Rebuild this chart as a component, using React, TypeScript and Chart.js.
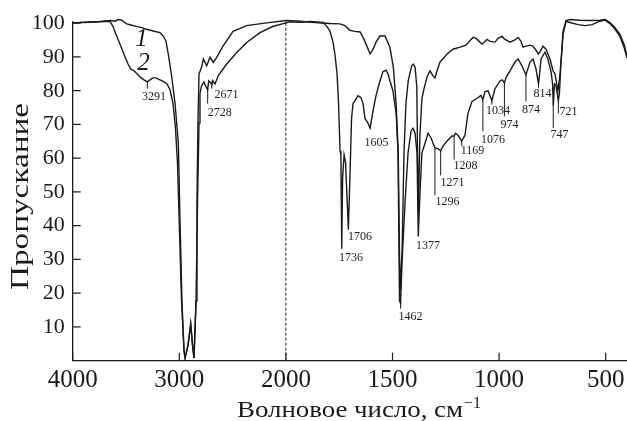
import React, { useEffect, useRef } from "react";
import { Chart, registerables } from "chart.js";

Chart.register(...registerables);

// IR spectra: [wavenumber cm^-1, transmittance %]
const curve1Points: [number, number][] = [
  [4000, 100.1], [3838, 100.4], [3744, 100.5], [3650, 100.8], [3603, 100.6], [3572, 101.1], [3540, 100.9],
  [3493, 99.8], [3446, 99.4], [3397, 99.0], [3350, 98.7], [3306, 98.2], [3244, 97.7], [3181, 97.2],
  [3150, 96.2], [3125, 94.7], [3103, 90.8], [3071, 84.2], [3040, 76.2], [3009, 64.5], [2993, 41.0],
  [2975, 17.7], [2956, 3.1], [2946, 0.8], [2918, 4.6], [2893, 10.9], [2876, 4.6], [2862, 0.8],
  [2843, 17.7], [2834, 47.0], [2825, 70.4], [2815, 85.0], [2790, 87.0], [2775, 89.4], [2743, 87.4],
  [2712, 89.9], [2681, 88.4], [2649, 89.9], [2590, 93.2], [2496, 97.6], [2368, 99.3], [2180, 100.1],
  [1996, 100.8], [1934, 100.6], [1863, 100.2], [1793, 99.9], [1746, 99.8], [1723, 99.3], [1713, 98.7],
  [1699, 97.9], [1676, 97.6], [1652, 97.4], [1638, 95.8], [1624, 93.8], [1605, 90.9], [1591, 92.3],
  [1577, 94.4], [1559, 96.2], [1535, 96.2], [1512, 92.8], [1496, 87.0], [1483, 76.2], [1473, 61.6],
  [1465, 20.6], [1455, 32.4], [1446, 61.6], [1437, 76.2], [1426, 83.0], [1410, 87.4], [1402, 87.9],
  [1394, 87.0], [1386, 81.2], [1379, 43.2], [1371, 67.4], [1362, 77.7], [1352, 80.6], [1338, 84.1],
  [1324, 85.9], [1310, 84.4], [1301, 83.8], [1291, 85.9], [1277, 88.5], [1244, 90.9], [1216, 92.3],
  [1183, 92.9], [1155, 93.5], [1136, 94.9], [1122, 95.8], [1108, 95.5], [1090, 94.4], [1080, 93.8],
  [1066, 94.6], [1057, 95.2], [1043, 94.6], [1019, 94.4], [1005, 95.5], [986, 96.1], [972, 95.2],
  [949, 94.4], [930, 94.9], [911, 95.8], [897, 94.6], [888, 92.9], [874, 93.2], [855, 93.5],
  [841, 93.2], [827, 92.0], [816, 90.9], [806, 91.7], [794, 93.2], [780, 92.3], [761, 89.4],
  [747, 85.9], [738, 85.0], [724, 80.0], [714, 85.0], [707, 90.9], [700, 97.6], [686, 100.8],
  [667, 101.1], [620, 100.9], [573, 100.8], [527, 100.9], [503, 101.1], [480, 100.2], [456, 98.7],
  [433, 96.7], [414, 93.8], [400, 90.3],
];

const curve2Points: [number, number][] = [
  [4000, 100.1], [3838, 100.3], [3744, 100.4], [3650, 100.6], [3622, 99.0], [3594, 96.7], [3556, 93.8],
  [3509, 90.0], [3481, 87.9], [3453, 86.4], [3425, 85.9], [3397, 85.0], [3369, 84.1], [3331, 83.2],
  [3300, 82.6], [3275, 83.2], [3247, 83.8], [3219, 83.8], [3181, 83.2], [3143, 82.6], [3115, 82.0],
  [3087, 80.3], [3059, 76.2], [3036, 68.9], [3017, 58.6], [2998, 38.2], [2979, 17.7], [2956, 3.1],
  [2946, 0.8], [2918, 4.6], [2893, 10.9], [2876, 4.6], [2862, 0.8], [2843, 17.7], [2829, 47.0],
  [2815, 70.4], [2806, 79.2], [2790, 81.6], [2768, 82.6], [2750, 81.2], [2734, 80.3], [2724, 82.9],
  [2705, 82.4], [2695, 81.8], [2687, 83.0], [2665, 82.0], [2634, 84.5], [2555, 87.9], [2461, 91.3],
  [2368, 94.3], [2243, 97.2], [2118, 99.1], [1981, 100.4], [1934, 100.3], [1887, 100.5], [1826, 100.2],
  [1807, 99.0], [1793, 97.6], [1779, 94.4], [1770, 90.8], [1760, 85.0], [1753, 76.2], [1746, 62.2],
  [1742, 61.0], [1738, 33.2], [1734, 54.3], [1727, 61.0], [1720, 58.7], [1707, 38.8], [1699, 55.8],
  [1692, 71.8], [1685, 76.2], [1676, 77.1], [1662, 78.5], [1648, 78.0], [1638, 76.2], [1629, 71.8],
  [1615, 70.4], [1605, 68.9], [1591, 74.2], [1577, 78.6], [1563, 82.0], [1545, 85.6], [1530, 86.1],
  [1521, 85.0], [1512, 82.9], [1498, 80.0], [1483, 73.3], [1474, 61.6], [1467, 17.7], [1462, 17.1],
  [1455, 29.4], [1441, 47.0], [1427, 61.6], [1413, 68.0], [1404, 68.9], [1394, 67.4], [1385, 61.6],
  [1379, 36.8], [1371, 49.9], [1362, 61.6], [1347, 64.5], [1333, 67.4], [1319, 66.0], [1310, 64.5],
  [1301, 63.1], [1286, 62.8], [1274, 62.2], [1263, 63.6], [1244, 65.1], [1221, 66.6], [1211, 66.6],
  [1204, 67.4], [1193, 66.8], [1175, 65.1], [1160, 66.8], [1146, 73.3], [1127, 76.8], [1104, 77.7],
  [1085, 78.6], [1076, 77.4], [1066, 79.7], [1052, 80.0], [1034, 77.1], [1019, 80.6], [996, 82.9],
  [985, 83.2], [975, 82.3], [968, 83.8], [949, 85.9], [925, 88.5], [911, 89.4], [892, 87.3],
  [874, 84.7], [855, 88.5], [841, 89.4], [827, 86.5], [815, 82.0], [803, 89.4], [785, 91.4],
  [771, 89.4], [756, 85.6], [749, 82.0], [746, 75.5], [740, 82.0], [733, 81.5], [722, 77.0],
  [717, 79.2], [710, 87.9], [700, 96.7], [686, 100.5], [667, 100.2], [630, 99.6], [597, 99.3],
  [564, 99.6], [527, 100.6], [503, 100.9], [480, 99.9], [456, 98.2], [433, 96.1], [414, 92.9],
  [400, 89.7],
];

const xTickWavenumbers = [4000, 3000, 2000, 1500, 1000, 500];
const yTickValues = [10, 20, 30, 40, 50, 60, 70, 80, 90, 100];
const axisBreakWavenumber = 2000;

// peak labels: text, label centre (wavenumber, T)
const peakLabels = ["3291", "2728", "2671", "1605", "1736", "1706", "1462", "1377", "1296", "1271", "1208", "1169", "1076", "1034", "974", "874", "814", "747", "721"];
const peakLabelWavenumbers = [3237, 2621, 2557, 1575, 1695, 1652, 1415, 1333, 1242, 1219, 1157, 1125, 1028, 1005, 951, 850, 796, 717, 674];
const peakLabelTransmittance = [78.3, 73.3, 78.9, 64.5, 30.6, 36.7, 13.1, 34.1, 47.0, 52.8, 57.8, 62.2, 65.4, 73.9, 69.8, 74.2, 79.2, 66.9, 73.6];

// peak marker lines: wavenumber, from T, to T
const peakTickWavenumbers = [3300, 2734, 2696, 1462, 1301, 1274, 1211, 1175, 1076, 1034, 975, 874, 815, 746, 722];
const peakTickFrom = [82.9, 80.3, 82.6, 17.1, 63.1, 62.2, 66.6, 65.1, 77.4, 77.1, 82.3, 84.7, 82.0, 75.5, 77.0];
const peakTickTo = [80.6, 76.2, 80.6, 15.4, 49.0, 54.9, 59.6, 63.6, 68.0, 75.9, 72.4, 76.8, 81.0, 68.9, 73.3];

const curveNames = ["1", "2"];
const curveNameWavenumbers = [3355, 3336];
const curveNameTransmittance = [95.2, 88.0];

const xTitle = "Волновое число, см";
const xTitleSup = "−1";
const yTitle = "Пропускание";

const toAxis = (w: number) => (w > axisBreakWavenumber ? axisBreakWavenumber + (w - axisBreakWavenumber) / 2 : w);
const fromAxis = (u: number) => (u > axisBreakWavenumber ? axisBreakWavenumber + (u - axisBreakWavenumber) * 2 : u);

const SERIF = "'Liberation Serif', 'Times New Roman', serif";
const INK = "#1a1a1a";

const overlayPlugin = {
  id: "overlay",
  afterDatasetsDraw(chart: any) {
    const ctx = chart.ctx as CanvasRenderingContext2D;
    const xs = chart.scales.x;
    const ys = chart.scales.y;
    const { left, bottom } = chart.chartArea;
    ctx.save();
    ctx.strokeStyle = INK;
    ctx.lineWidth = 1.2;
    ctx.beginPath();
    ys.ticks.forEach((t: any) => {
      const py = ys.getPixelForValue(t.value);
      ctx.moveTo(left, py);
      ctx.lineTo(left + 8, py);
    });
    xs.ticks.forEach((t: any) => {
      const px = xs.getPixelForValue(t.value);
      ctx.moveTo(px, bottom);
      ctx.lineTo(px, bottom - 8);
    });
    ctx.stroke();

    // peak marker lines
    ctx.lineWidth = 1;
    ctx.beginPath();
    peakTickWavenumbers.forEach((w, i) => {
      const px = xs.getPixelForValue(toAxis(w));
      ctx.moveTo(px, ys.getPixelForValue(peakTickFrom[i]));
      ctx.lineTo(px, ys.getPixelForValue(peakTickTo[i]));
    });
    ctx.stroke();

    // peak labels
    ctx.fillStyle = INK;
    ctx.font = `12px ${SERIF}`;
    ctx.textAlign = "center";
    ctx.textBaseline = "middle";
    peakLabels.forEach((txt, i) => {
      ctx.fillText(txt, xs.getPixelForValue(toAxis(peakLabelWavenumbers[i])), ys.getPixelForValue(peakLabelTransmittance[i]));
    });

    // curve names
    ctx.font = `italic 25px ${SERIF}`;
    curveNames.forEach((txt, i) => {
      ctx.fillText(txt, xs.getPixelForValue(toAxis(curveNameWavenumbers[i])), ys.getPixelForValue(curveNameTransmittance[i]));
    });

    // x title with superscript (reference face is wider than Liberation Serif)
    ctx.textAlign = "left";
    ctx.textBaseline = "alphabetic";
    ctx.font = `24px ${SERIF}`;
    const mw = ctx.measureText(xTitle).width;
    const xStretch = 226 / mw;
    ctx.save();
    ctx.translate(237, 417);
    ctx.scale(xStretch, 1);
    ctx.fillText(xTitle, 0, 0);
    ctx.restore();
    ctx.font = `16px ${SERIF}`;
    ctx.fillText(xTitleSup, 237 + 226 + 1, 408);

    // y title
    ctx.save();
    ctx.font = `25px ${SERIF}`;
    const yw = ctx.measureText(yTitle).width;
    ctx.translate(21, 196.5);
    ctx.rotate(-Math.PI / 2);
    ctx.scale(187 / yw, 1);
    ctx.textAlign = "center";
    ctx.textBaseline = "middle";
    ctx.fillText(yTitle, 0, 0);
    ctx.restore();
    ctx.restore();
  },
};

export default function App() {
  const ref = useRef<HTMLCanvasElement>(null);
  useEffect(() => {
    const canvas = ref.current;
    if (!canvas) return;
    const lineStyle = {
      borderColor: INK,
      borderWidth: 1.4,
      pointRadius: 0,
      tension: 0,
      fill: false,
      clip: 6,
    };
    const chart = new Chart(canvas, {
      type: "line",
      data: {
        datasets: [
          { ...lineStyle, label: "1", data: curve1Points.map(([w, t]) => ({ x: toAxis(w), y: t })) },
          { ...lineStyle, label: "2", data: curve2Points.map(([w, t]) => ({ x: toAxis(w), y: t })) },
          {
            label: "break",
            data: [
              { x: toAxis(axisBreakWavenumber), y: 0 },
              { x: toAxis(axisBreakWavenumber), y: 100.6 },
            ],
            borderColor: INK,
            borderWidth: 1,
            borderDash: [3, 2],
            pointRadius: 0,
          },
        ] as any,
      },
      options: {
        responsive: false,
        maintainAspectRatio: false,
        animation: false,
        events: [],
        layout: { padding: { left: 0, right: 0, top: 17, bottom: 0 } },
        plugins: { legend: { display: false }, tooltip: { enabled: false } },
        scales: {
          x: {
            type: "linear",
            reverse: true,
            min: toAxis(400),
            max: toAxis(4000),
            grid: { display: false, drawTicks: false },
            border: { display: true, color: INK, width: 1.3 },
            afterBuildTicks: (scale: any) => {
              scale.ticks = xTickWavenumbers.map((w) => ({ value: toAxis(w) })).sort((a, b) => a.value - b.value);
            },
            afterFit: (scale: any) => {
              scale.height = 60.3;
            },
            ticks: {
              autoSkip: false,
              maxRotation: 0,
              padding: 5,
              color: INK,
              font: { family: SERIF, size: 25 },
              callback: (v: any) => String(fromAxis(Number(v))),
            },
          },
          y: {
            type: "linear",
            min: 0,
            max: 100.6,
            grid: { display: false, drawTicks: false },
            border: { display: true, color: INK, width: 1.3 },
            afterBuildTicks: (scale: any) => {
              scale.ticks = yTickValues.map((v) => ({ value: v }));
            },
            afterFit: (scale: any) => {
              scale.width = 72.7;
            },
            ticks: {
              padding: 8,
              color: INK,
              font: { family: SERIF, size: 22 },
              callback: (v: any) => String(v),
            },
          },
        },
      },
      plugins: [overlayPlugin],
    });
    return () => chart.destroy();
  }, []);
  return (
    <div style={{ position: "fixed", left: 0, top: 0, width: 627, height: 421, background: "#fff" }}>
      <canvas ref={ref} width={627} height={421} style={{ display: "block", width: 627, height: 421 }} />
    </div>
  );
}
